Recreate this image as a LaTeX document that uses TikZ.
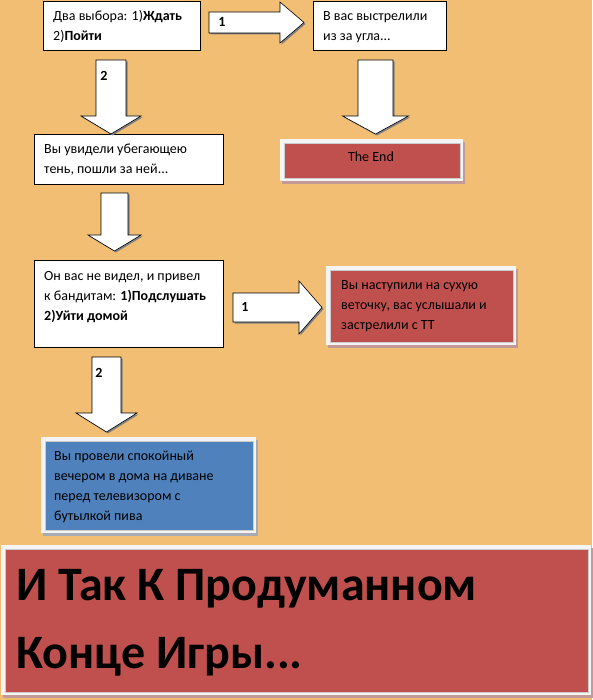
\documentclass[tikz,border=0pt]{standalone}
\usepackage{fontspec}
\setmainfont{Carlito}
\usetikzlibrary{positioning}
\definecolor{storyback}{HTML}{F1BE73}
\definecolor{storyred}{HTML}{C0504D}
\definecolor{storyblue}{HTML}{4F81BD}
\definecolor{storyframe}{HTML}{F4F4F4}
\definecolor{redshadow}{HTML}{C49A98}
\definecolor{blueshadow}{HTML}{A7ABB4}
\tikzset{
  story box/.style={draw=black, line width=0.8pt, fill=white, inner sep=0pt},
  story card/.style={inner sep=0pt, draw=white!80!black, line width=0.4pt},
  story text/.style={
    inner sep=0pt,
    anchor=base west,
    align=left,
    font=\fontsize{14}{20}\selectfont
  },
  story arrow/.style={fill=white, draw=black, line width=0.6pt, line join=miter},
  story arrow shadow/.style={fill=black!50},
  story label/.style={font=\fontsize{14}{16}\selectfont\bfseries, inner sep=0pt}
}
\newcommand{\storyBox}[5]{%
  \node[story box, anchor=north west,
    minimum width={(#4-#2)*1pt}, minimum height={(#5-#3)*1pt}] (#1) at (#2,#3) {};%
}
\newcommand{\storyCard}[7]{%
  \fill[#7] ({#2+2},{#3+3}) rectangle ({#4+2},{#5+3});%
  \fill[storyframe] (#2,#3) rectangle (#4,#5);%
  \node[story card, fill=#6, anchor=north west,
    minimum width={(#4-#2-7)*1pt}, minimum height={(#5-#3-7)*1pt}] (#1) at ({#2+4},{#3+4}) {};%
}
\newcommand{\storyArrowDown}[6]{%
  \fill[story arrow shadow,shift={(1.5,1.5)}]
    ({#1-#5},#2) -- ({#1+#5},#2) -- ({#1+#5},#3) -- ({#1+#6},#3)
    -- (#1,#4) -- ({#1-#6},#3) -- ({#1-#5},#3) -- cycle;%
  \draw[story arrow]
    ({#1-#5},#2) -- ({#1+#5},#2) -- ({#1+#5},#3) -- ({#1+#6},#3)
    -- (#1,#4) -- ({#1-#6},#3) -- ({#1-#5},#3) -- cycle;%
}
\newcommand{\storyArrowRight}[6]{%
  \fill[story arrow shadow,shift={(1.5,1.5)}]
    (#1,{#2-#5}) -- (#3,{#2-#5}) -- (#3,{#2-#6}) -- (#4,#2)
    -- (#3,{#2+#6}) -- (#3,{#2+#5}) -- (#1,{#2+#5}) -- cycle;%
  \draw[story arrow]
    (#1,{#2-#5}) -- (#3,{#2-#5}) -- (#3,{#2-#6}) -- (#4,#2)
    -- (#3,{#2+#6}) -- (#3,{#2+#5}) -- (#1,{#2+#5}) -- cycle;%
}

\begin{document}
\begin{tikzpicture}[x=1pt,y=-1pt]
  \fill[storyback] (0,0) rectangle (592,700);
  \useasboundingbox (0,0) rectangle (592,700);

  % white boxes (text placed by the baseline of its last line)
  \storyBox{choice}{43}{1}{200}{50}
  \storyBox{shot}{313}{1}{446}{50}
  \storyBox{shadow}{34}{134}{223}{184}
  \storyBox{bandits}{34}{260}{223}{347}

  \node[story text] (choice text) at (53,41)
    {Два выбора: 1)\textbf{Ждать}\\2)\textbf{Пойти}};
  \node[story text] (shot text) at (323,41)
    {В вас выстрелили\\из за угла...};
  \node[story text] (shadow text) at (44,174)
    {Вы увидели убегающею\\тень, пошли за ней...};
  \node[story text] (bandits text) at (44,320)
    {Он вас не видел, и привел\\к бандитам: \textbf{1)Подслушать}\\\textbf{2)Уйти домой}};

  % coloured cards
  \storyCard{theend}{280}{139}{463}{181}{storyred}{redshadow}
  \storyCard{twig}{326}{266}{516}{345}{storyred}{redshadow}
  \storyCard{home}{41}{437}{256}{533}{storyblue}{blueshadow}
  \storyCard{final}{1}{545}{591}{695}{storyred}{redshadow}

  \node[story text, anchor=base] (theend text) at (371,162) {The End};
  \node[story text] (twig text) at (341,329)
    {Вы наступили на сухую\\веточку, вас услышали и\\застрелили с ТТ};
  \node[story text] (home text) at (54,520)
    {Вы провели спокойный\\вечером в дома на диване\\перед телевизором с\\бутылкой пива};
  \node[story text, font=\fontsize{48}{68}\selectfont\bfseries] (final text) at (16,668)
    {И Так К Продуманном\\Конце Игры...};

  % block arrows
  \storyArrowRight{209}{22.5}{280}{304}{10.5}{20.5}
  \node[story label] (label choice shot) at (222,22) {1};
  \storyArrowDown{111}{60}{116}{134}{15}{30}
  \node[story label] (label choice shadow) at (104,76) {2};
  \storyArrowDown{375.5}{60}{116}{134}{17.5}{33}
  \storyArrowDown{114.5}{193}{235}{251}{13.5}{26.5}
  \storyArrowRight{233}{307.5}{299}{322}{14.5}{26.5}
  \node[story label] (label bandits twig) at (245,307) {1};
  \storyArrowDown{106.5}{357}{413}{432}{14.5}{30.5}
  \node[story label] (label bandits home) at (99,373) {2};
\end{tikzpicture}
\end{document}
